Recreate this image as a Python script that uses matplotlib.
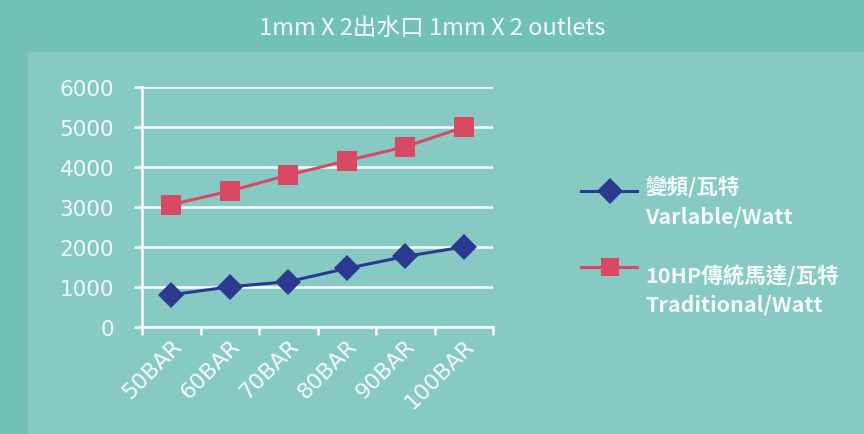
import matplotlib.pyplot as plt
from matplotlib.patches import Rectangle
from matplotlib.lines import Line2D
import matplotlib.transforms as mtransforms

# Data
categories = ["50BAR", "60BAR", "70BAR", "80BAR", "90BAR", "100BAR"]
variable_watt = [800, 1000, 1130, 1460, 1760, 2000]
traditional_watt = [3060, 3400, 3800, 4160, 4510, 5000]
y_ticks = [0, 1000, 2000, 3000, 4000, 5000, 6000]

title = "1mm X 2出水口 1mm X 2 outlets"
label_variable = ["變頻/瓦特", "Varlable/Watt"]
label_traditional = ["10HP傳統馬達/瓦特", "Traditional/Watt"]

OUTER_BG = "#72c1b9"
PANEL_BG = "#87cac4"
BLUE = "#2b3990"
RED = "#d94964"
WHITE = "#ffffff"
TEXT = "#f4faf9"

plt.rcParams['font.family'] = ['Noto Sans CJK TC', 'DejaVu Sans']

fig = plt.figure(figsize=(8.64, 4.35), dpi=100)
fig.patch.set_facecolor(OUTER_BG)

# Inner lighter panel
fig.patches.append(Rectangle((28 / 864, 0), 1 - 28 / 864, 1 - 53 / 435,
                             transform=fig.transFigure, facecolor=PANEL_BG,
                             edgecolor='none', zorder=-10))

fig.text(0.5, 1 - 28 / 435, title, ha='center', va='center',
         fontsize=17, color=TEXT, fontweight='light')

ax = fig.add_axes([142 / 864, 1 - 327.7 / 435, (493 - 142) / 864, (327.7 - 88.3) / 435])
ax.set_facecolor('none')
ax.set_zorder(5)

x = list(range(len(categories)))
ax.plot(x, traditional_watt, color=RED, linewidth=2.2, marker='s',
        markersize=14.5, markeredgewidth=0, zorder=4)
ax.plot(x, variable_watt, color=BLUE, linewidth=2.2, marker='D',
        markersize=13, markeredgewidth=0, zorder=4)

ax.set_xlim(-0.5, len(categories) - 0.5)
ax.set_ylim(0, 6000)
ax.set_yticks(y_ticks)
ax.set_yticklabels([str(v) for v in y_ticks], family='DejaVu Sans', fontsize=15.5, color=TEXT)
ax.yaxis.grid(True, color=WHITE, linewidth=1.8)
ax.set_axisbelow(True)

# category boundary ticks and centered labels
ax.set_xticks([i - 0.5 for i in range(len(categories) + 1)])
ax.set_xticklabels([])
ax.set_xticks(x, minor=True)
ax.set_xticklabels(categories, minor=True, rotation=45, ha='right',
                   rotation_mode='anchor', family='DejaVu Sans',
                   fontsize=16, color=TEXT)
offset = mtransforms.ScaledTranslation(19 / 100, -2 / 100, fig.dpi_scale_trans)
for lbl in ax.get_xticklabels(minor=True):
    lbl.set_transform(lbl.get_transform() + offset)
ax.tick_params(axis='x', which='major', length=6, width=1.8, color=WHITE, direction='out')
ax.tick_params(axis='x', which='minor', length=0, pad=6)
ax.tick_params(axis='y', length=6, width=1.8, color=WHITE, direction='out', pad=14)

for side in ['top', 'right']:
    ax.spines[side].set_visible(False)
for side in ['left', 'bottom']:
    ax.spines[side].set_color(WHITE)
    ax.spines[side].set_linewidth(1.8)

# legend drawn by hand so each text line sits where the original has it
def legend_entry(y_handle, y_line1, y_line2, color, marker, msize, lines):
    fig.add_artist(Line2D([581 / 864, 637 / 864], [1 - y_handle / 435] * 2,
                          transform=fig.transFigure, color=color, linewidth=2.2))
    fig.add_artist(Line2D([610 / 864], [1 - y_handle / 435], transform=fig.transFigure,
                          color=color, marker=marker, markersize=msize,
                          markeredgewidth=0, linestyle='none'))
    for yy, txt in zip([y_line1, y_line2], lines):
        fig.text(645 / 864, 1 - yy / 435, txt, ha='left', va='center',
                 fontsize=15.5, fontweight='bold', color=TEXT)

legend_entry(192, 187, 217, BLUE, 'D', 13, label_variable)
legend_entry(268, 276, 305, RED, 's', 13, label_traditional)

fig.savefig("out.png", dpi=100, facecolor=fig.get_facecolor())
